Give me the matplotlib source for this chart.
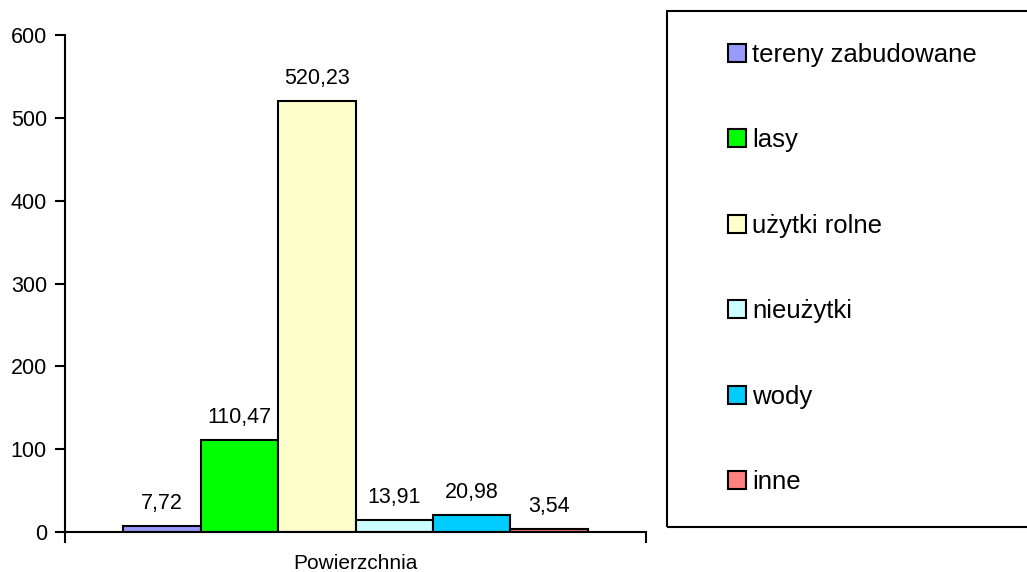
import matplotlib.pyplot as plt
from matplotlib.patches import Rectangle, Patch

plt.rcParams['font.family'] = ['Liberation Sans', 'DejaVu Sans']

kategorie = ["tereny zabudowane", "lasy", "użytki rolne", "nieużytki", "wody", "inne"]
wartosci = [7.72, 110.47, 520.23, 13.91, 20.98, 3.54]
etykiety = ["7,72", "110,47", "520,23", "13,91", "20,98", "3,54"]
kolory = ["#9999FF", "#00FF00", "#FFFFCC", "#CCFFFF", "#00CCFF", "#FF8080"]
grupa = "Powierzchnia"
yticks = [0, 100, 200, 300, 400, 500, 600]

fig = plt.figure(figsize=(10.27, 5.72), dpi=100)
ax = fig.add_axes([65 / 1027, 1 - 532 / 572, 581 / 1027, 497 / 572])

# Excel style: gap width 150%, bars side by side in one category
n = len(wartosci)
w = 1 / (n + 1.5)
start = 0.5 - n * w / 2
for i, (v, k, e) in enumerate(zip(wartosci, kolory, etykiety)):
    x = start + (i + 0.5) * w
    ax.bar(x, v, width=w, color=k, edgecolor="black", linewidth=1.5)
    ax.annotate(e, (x, v), xytext=(0, 12), textcoords="offset pixels",
                ha="center", va="bottom", fontsize=15.5)

ax.set_xlim(0, 1)
ax.set_ylim(0, 600)
ax.set_yticks(yticks)
ax.tick_params(axis="y", labelsize=15.5, length=7, width=1.5, pad=6)
ax.set_xticks([0, 1])
ax.set_xticklabels(["", ""])
ax.tick_params(axis="x", which="major", length=8, width=1.5)
ax.set_xticks([0.5], minor=True)
ax.set_xticklabels([grupa], minor=True)
ax.tick_params(axis="x", which="minor", length=0, labelsize=15, pad=16)
for s in ["top", "right"]:
    ax.spines[s].set_visible(False)
for s in ["left", "bottom"]:
    ax.spines[s].set_linewidth(1.5)

# legend frame runs past the right edge of the picture
fig.patches.append(Rectangle((667 / 1027, 1 - 527 / 572), 0.5, 516 / 572,
                             transform=fig.transFigure, fill=False,
                             edgecolor="black", linewidth=1.5))
uchwyty = [Patch(facecolor=k, edgecolor="black", linewidth=1.5) for k in kolory]
fig.legend(uchwyty, kategorie, loc="upper left", bbox_to_anchor=(728 / 1027, 1 - 43 / 572),
           frameon=False, fontsize=18.5, handlelength=0.7, handleheight=0.7,
           handletextpad=0.25, labelspacing=2.39, borderpad=0, borderaxespad=0)

fig.savefig("out.png", dpi=100)
